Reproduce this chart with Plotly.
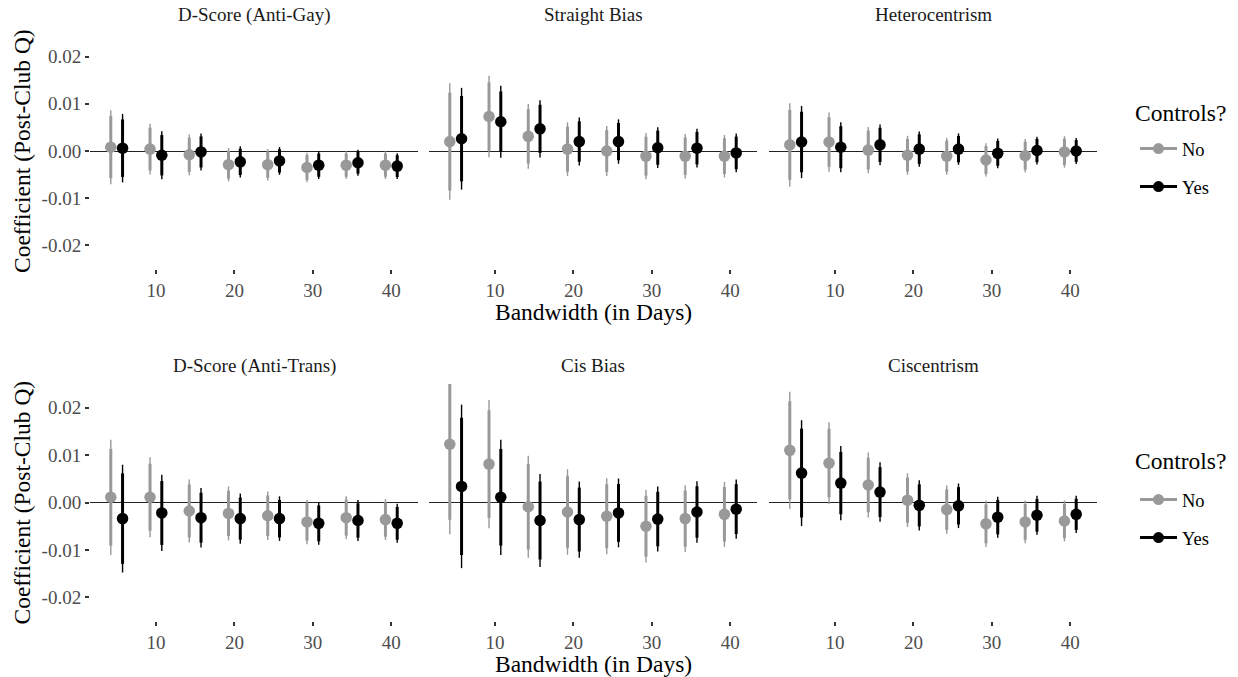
import plotly.graph_objects as go

# ---------------- data ----------------
bandwidths = [5, 10, 15, 20, 25, 30, 35, 40]
panel_titles = ["D-Score (Anti-Gay)", "Straight Bias", "Heterocentrism",
                "D-Score (Anti-Trans)", "Cis Bias", "Ciscentrism"]
x_ticks = [10, 20, 30, 40]
y_ticks = [-0.02, -0.01, 0.0, 0.01, 0.02]
y_ticktext = ["-0.02", "-0.01", "0.00", "0.01", "0.02"]

# point estimates and standard errors, without (No) / with (Yes) controls
gay_no_est = [0.0008, 0.0004, -0.0008, -0.0029, -0.0029, -0.0035, -0.0030, -0.0030]
gay_no_se = [0.0040, 0.00275, 0.0022, 0.0018, 0.0017, 0.0016, 0.0015, 0.0015]
gay_yes_est = [0.0006, -0.0009, -0.0002, -0.0023, -0.0021, -0.0030, -0.0025, -0.0032]
gay_yes_se = [0.0037, 0.0026, 0.0020, 0.0017, 0.0015, 0.0015, 0.0014, 0.0014]

straight_no_est = [0.0020, 0.0073, 0.0031, 0.0004, 0.0000, -0.0011, -0.0011, -0.0011]
straight_no_se = [0.0063, 0.0044, 0.0035, 0.0029, 0.0027, 0.0025, 0.0024, 0.0023]
straight_yes_est = [0.0026, 0.0062, 0.0047, 0.0020, 0.0020, 0.0007, 0.0006, -0.0004]
straight_yes_se = [0.0055, 0.0039, 0.0031, 0.0026, 0.0024, 0.0022, 0.0021, 0.0021]

hetero_no_est = [0.0013, 0.0019, 0.0002, -0.0009, -0.0011, -0.0019, -0.0010, -0.0002]
hetero_no_se = [0.0045, 0.0032, 0.0025, 0.0021, 0.0020, 0.0018, 0.0018, 0.0017]
hetero_yes_est = [0.0019, 0.0008, 0.0013, 0.0004, 0.0004, -0.0005, 0.0001, 0.0000]
hetero_yes_se = [0.0039, 0.0027, 0.0022, 0.0019, 0.0017, 0.0016, 0.0015, 0.0014]

trans_no_est = [0.0011, 0.0011, -0.0018, -0.0023, -0.0028, -0.0041, -0.0032, -0.0036]
trans_no_se = [0.0062, 0.0043, 0.0034, 0.0029, 0.0026, 0.0024, 0.0023, 0.0022]
trans_yes_est = [-0.0034, -0.0022, -0.0032, -0.0034, -0.0034, -0.0044, -0.0038, -0.0044]
trans_yes_se = [0.0058, 0.0041, 0.0032, 0.0027, 0.0024, 0.0023, 0.0022, 0.0021]

cis_no_est = [0.0123, 0.0081, -0.0009, -0.0020, -0.0029, -0.0050, -0.0034, -0.0025]
cis_no_se = [0.0097, 0.0069, 0.0055, 0.0046, 0.0041, 0.0039, 0.0036, 0.0035]
cis_yes_est = [0.0034, 0.0011, -0.0038, -0.0036, -0.0022, -0.0035, -0.0020, -0.0014]
cis_yes_se = [0.0088, 0.0062, 0.0050, 0.0041, 0.0037, 0.0035, 0.0033, 0.0032]

ciscen_no_est = [0.0110, 0.0083, 0.0037, 0.0005, -0.0015, -0.0045, -0.0041, -0.0039]
ciscen_no_se = [0.0063, 0.0044, 0.0035, 0.0029, 0.0026, 0.0025, 0.0023, 0.0022]
ciscen_yes_est = [0.0062, 0.0041, 0.0022, -0.0006, -0.0007, -0.0031, -0.0027, -0.0025]
ciscen_yes_se = [0.0057, 0.0040, 0.0032, 0.0027, 0.0024, 0.0022, 0.0021, 0.0020]

panels = [
    (gay_no_est, gay_no_se, gay_yes_est, gay_yes_se),
    (straight_no_est, straight_no_se, straight_yes_est, straight_yes_se),
    (hetero_no_est, hetero_no_se, hetero_yes_est, hetero_yes_se),
    (trans_no_est, trans_no_se, trans_yes_est, trans_yes_se),
    (cis_no_est, cis_no_se, cis_yes_est, cis_yes_se),
    (ciscen_no_est, ciscen_no_se, ciscen_yes_est, ciscen_yes_se),
]

# ---------------- style ----------------
W, H = 1238, 677
FONT = "Liberation Serif, Times New Roman, serif"
GREY = "#999999"
BLACK = "#000000"
Z95, Z90 = 1.96, 1.645
DODGE = 0.75
col_px = [(90, 418), (429, 757), (769, 1097)]
row_px = [(33, 269), (384, 621)]


def px(x):
    return x / W


def py(y):
    return 1 - y / H


fig = go.Figure()


def seg(xs, est, se, z):
    sx, sy = [], []
    for x, e, s in zip(xs, est, se):
        sx += [x, x, None]
        sy += [e - z * s, e + z * s, None]
    return sx, sy


for k, (ne, ns, ye, ys) in enumerate(panels):
    ax = "" if k == 0 else str(k + 1)
    xa, ya = "x" + ax, "y" + ax
    for est, se, color, off in [(ne, ns, GREY, -DODGE), (ye, ys, BLACK, DODGE)]:
        xs = [b + off for b in bandwidths]
        tx, ty = seg(xs, est, se, Z95)
        fig.add_trace(go.Scatter(x=tx, y=ty, mode="lines", xaxis=xa, yaxis=ya,
                                 line=dict(color=color, width=1.4), showlegend=False,
                                 hoverinfo="skip"))
        tx, ty = seg(xs, est, se, Z90)
        fig.add_trace(go.Scatter(x=tx, y=ty, mode="lines", xaxis=xa, yaxis=ya,
                                 line=dict(color=color, width=3), showlegend=False,
                                 hoverinfo="skip"))
        fig.add_trace(go.Scatter(x=xs, y=est, mode="markers", xaxis=xa, yaxis=ya,
                                 marker=dict(color=color, size=11.5, line=dict(width=0)),
                                 showlegend=False))

# legend entries (one legend per row)
for lg in ["legend", "legend2"]:
    for name, color in [("No", GREY), ("Yes", BLACK)]:
        fig.add_trace(go.Scatter(x=[None], y=[None], mode="lines+markers", name=name,
                                 line=dict(color=color, width=3),
                                 marker=dict(color=color, size=11),
                                 legend=lg, legendgroup=lg + name, showlegend=True,
                                 xaxis="x", yaxis="y"))

layout = dict(
    width=W, height=H, margin=dict(l=0, r=0, t=0, b=0),
    paper_bgcolor="white", plot_bgcolor="white",
    font=dict(family=FONT, color="#000000"),
    showlegend=True,
)

for k in range(6):
    r, c = divmod(k, 3)
    ax = "" if k == 0 else str(k + 1)
    l, rr = col_px[c]
    t, b = row_px[r]
    layout["xaxis" + ax] = dict(
        domain=[px(l), px(rr)], anchor="y" + ax, range=[1.6, 43.4],
        tickvals=x_ticks, ticks="outside", ticklen=4, tickwidth=1.5, tickcolor="#333333",
        tickfont=dict(size=19, color="#4d4d4d", family=FONT),
        showgrid=False, zeroline=False, showline=False)
    layout["yaxis" + ax] = dict(
        domain=[py(b), py(t)], anchor="x" + ax, range=[-0.025, 0.025],
        tickvals=y_ticks, ticktext=y_ticktext,
        ticks="outside" if c == 0 else "", ticklen=4, tickwidth=1.5, tickcolor="#333333",
        showticklabels=(c == 0),
        tickfont=dict(size=19, color="#4d4d4d", family=FONT),
        showgrid=False, zeroline=True, zerolinecolor="#222222", zerolinewidth=1,
        showline=False)

annotations = []
for k, title in enumerate(panel_titles):
    r, c = divmod(k, 3)
    l, rr = col_px[c]
    t, b = row_px[r]
    annotations.append(dict(text=title, x=px((l + rr) / 2), y=py(t - 18),
                            xref="paper", yref="paper", xanchor="center", yanchor="middle",
                            showarrow=False, font=dict(size=19, color="#1a1a1a", family=FONT)))
for r in range(2):
    t, b = row_px[r]
    annotations.append(dict(text="Coefficient (Post-Club Q)", x=px(22), y=py((t + b) / 2),
                            xref="paper", yref="paper", xanchor="center", yanchor="middle",
                            textangle=-90, showarrow=False,
                            font=dict(size=23.5, color="#000000", family=FONT)))
    annotations.append(dict(text="Bandwidth (in Days)", x=px(593.5), y=py(b + 43),
                            xref="paper", yref="paper", xanchor="center", yanchor="middle",
                            showarrow=False, font=dict(size=23.5, color="#000000", family=FONT)))
# legend titles
for ty in [113, 461]:
    annotations.append(dict(text="Controls?", x=px(1133), y=py(ty),
                            xref="paper", yref="paper", xanchor="left", yanchor="middle",
                            showarrow=False, font=dict(size=23.5, color="#000000", family=FONT)))
layout["annotations"] = annotations

leg_common = dict(xanchor="left", yanchor="top", bgcolor="rgba(0,0,0,0)",
                  font=dict(size=18.5, family=FONT, color="#000000"),
                  tracegroupgap=11, itemwidth=37)
layout["legend"] = dict(x=px(1135), y=py(130), **leg_common)
layout["legend2"] = dict(x=px(1135), y=py(481), **leg_common)

fig.update_layout(**layout)
fig.write_html("out.html", config={"displayModeBar": False},
               post_script="document.body.style.margin='0';")
